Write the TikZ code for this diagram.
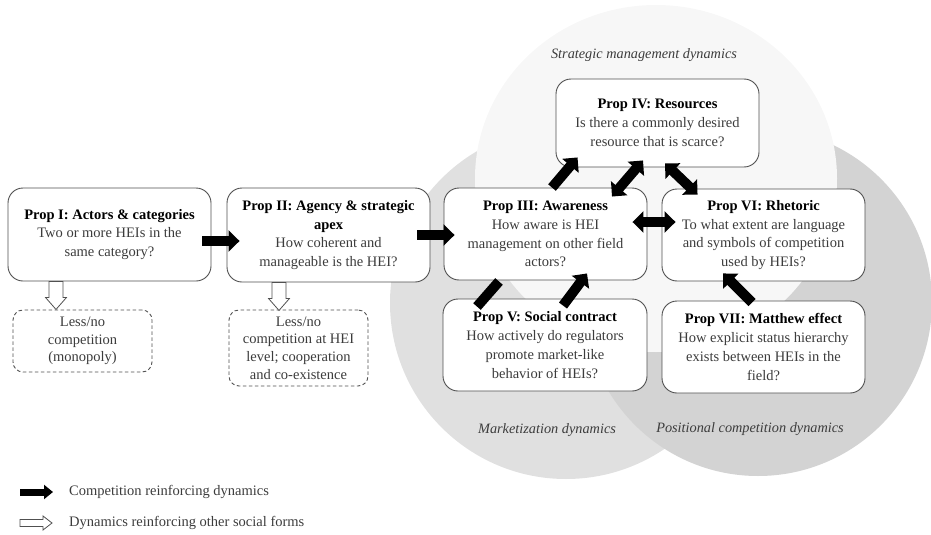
\documentclass[tikz,border=0pt]{standalone}
\usepackage{fontspec}
\setmainfont{Liberation Serif}
\usetikzlibrary{arrows.meta,calc}
\definecolor{cstrat}{RGB}{247,247,247}
\definecolor{cmarket}{RGB}{224,224,224}
\definecolor{cpos}{RGB}{211,211,211}
\definecolor{boxline}{RGB}{80,80,80}
\definecolor{txt}{RGB}{60,60,60}
\newcommand{\ttl}[1]{\textbf{\color{black}#1}}
\begin{document}
\begin{tikzpicture}[x=1pt,y=-1pt,
  prop/.style={draw=boxline, line width=0.9pt, fill=white, rounded corners=15pt,
    minimum width=203pt, minimum height=92pt, align=center, inner sep=0pt,
    font=\fontsize{14.5}{18.8}\selectfont, text=txt,
    execute at begin node={\rule{0pt}{16pt}}},
  outcome/.style={draw=boxline, dash pattern=on 3.5pt off 2.5pt, line width=0.9pt, fill=white, rounded corners=10pt,
    minimum width=139pt, align=center, inner sep=0pt,
    font=\fontsize{14.5}{17.7}\selectfont, text=txt,
    execute at begin node={\rule{0pt}{17pt}}},
  comp/.style={line width=10pt, -{Triangle[length=11pt,width=21pt]}},
  compboth/.style={line width=10pt, {Triangle[length=11pt,width=21pt]}-{Triangle[length=11pt,width=21pt]}},
  compbar/.style={line width=10pt},
  lbl/.style={font=\fontsize{14.3}{17}\selectfont\itshape, text=txt},
  legtext/.style={font=\fontsize{14.5}{17}\selectfont, text=txt, anchor=west, inner sep=0pt},
  hollowdown/.pic={\draw[draw=boxline, line width=0.8pt, fill=white]
    (-7,0) -- (-7,16) -- (-10.5,16) -- (0,28) -- (10.5,16) -- (7,16) -- (7,0) -- cycle;},
  hollowright/.pic={\draw[draw=boxline, line width=0.8pt, fill=white]
    (0,-3.5) -- (23,-3.5) -- (23,-7) -- (32,0) -- (23,7) -- (23,3.5) -- (0,3.5) -- cycle;}
]
\useasboundingbox (0,0) rectangle (931,535);
% circles
\fill[cmarket] (566,303) circle (176pt);
\fill[cpos] (758,302) circle (174pt);
\fill[cstrat] (656,178.5) ellipse [x radius=181pt, y radius=173.5pt];
% circle labels
\node[lbl] (lstrat) at (644,55) {Strategic management dynamics};
\node[lbl] (lmarket) at (547,430) {Marketization dynamics};
\node[lbl] (lpos) at (750,429) {Positional competition dynamics};
% boxes
\node[prop, minimum height=93pt] (b1) at (109.5,234.5) {\ttl{Prop I: Actors \& categories}\\Two or more HEIs in the\\same category?};
\node[prop, minimum height=94pt] (b2) at (328.5,235) {\ttl{Prop II: Agency \& strategic}\\\ttl{apex}\\How coherent and\\manageable is the HEI?};
\node[prop] (b3) at (545.5,234) {\ttl{Prop III: Awareness}\\How aware is HEI\\management on other field\\actors?};
\node[prop, minimum height=88pt] (b4) at (657.5,123) {\ttl{Prop IV: Resources}\\Is there a commonly desired\\resource that is scarce?};
\node[prop] (b6) at (763.5,235) {\ttl{Prop VI: Rhetoric}\\To what extent are language\\and symbols of competition\\used by HEIs?};
\node[prop, minimum width=204pt] (b5) at (545,345) {\ttl{Prop V: Social contract}\\How actively do regulators\\promote market-like\\behavior of HEIs?};
\node[prop] (b7) at (763.5,347) {\ttl{Prop VII: Matthew effect}\\How explicit status hierarchy\\exists between HEIs in the\\field?};
% outcome boxes
\node[outcome, minimum height=62pt] (d1) at (82.5,341) {Less/no\\competition\\(monopoly)};
\node[outcome, minimum height=76pt] (d2) at (298.5,348) {Less/no\\competition at HEI\\level; cooperation\\and co-existence};
% hollow arrows
\pic at ($(b1.south)+(-53.5,0)$) {hollowdown};
\pic at ($(b2.south)+(-49.5,0)$) {hollowdown};
% competition arrows
\draw[comp] ($(b1.east)+(-9,6.5)$) -- ($(b2.west)+(13,6)$);
\draw[comp] ($(b2.east)+(-13,0)$) -- ($(b3.west)+(11,1)$);
\draw[comp] ($(b3.north)+(6.5,0)$) -- ($(b4.south west)+(22,-10)$);
\draw[compboth] ($(b3.north)+(66.5,9)$) -- ($(b4.south)+(-14.5,-7)$);
\draw[compboth] ($(b4.south)+(7.5,-4)$) -- ($(b6.north west)+(36,6)$);
\draw[compboth] ($(b3.east)+(-15,-12)$) -- ($(b6.west)+(14,-13)$);
\draw[compbar] ($(b5.north)+(-68,8)$) -- ($(b3.south)+(-46.5,1)$);
\draw[comp] ($(b5.north)+(18,7)$) -- ($(b3.south)+(41.5,-7)$);
\draw[comp] ($(b7.north)+(-11.5,2)$) -- ($(b6.south)+(-40.5,-8)$);
% legend
\coordinate (la) at (20,492);
\coordinate (lb) at (53,492);
\draw[line width=7pt, -{Triangle[length=9pt,width=14pt]}] (la) -- (lb);
\node[legtext] (lt1) at (69,492) {Competition reinforcing dynamics};
\coordinate (lc) at (20,523);
\pic at (lc) {hollowright};
\node[legtext] (lt2) at (69,523) {Dynamics reinforcing other social forms};
\end{tikzpicture}
\end{document}
